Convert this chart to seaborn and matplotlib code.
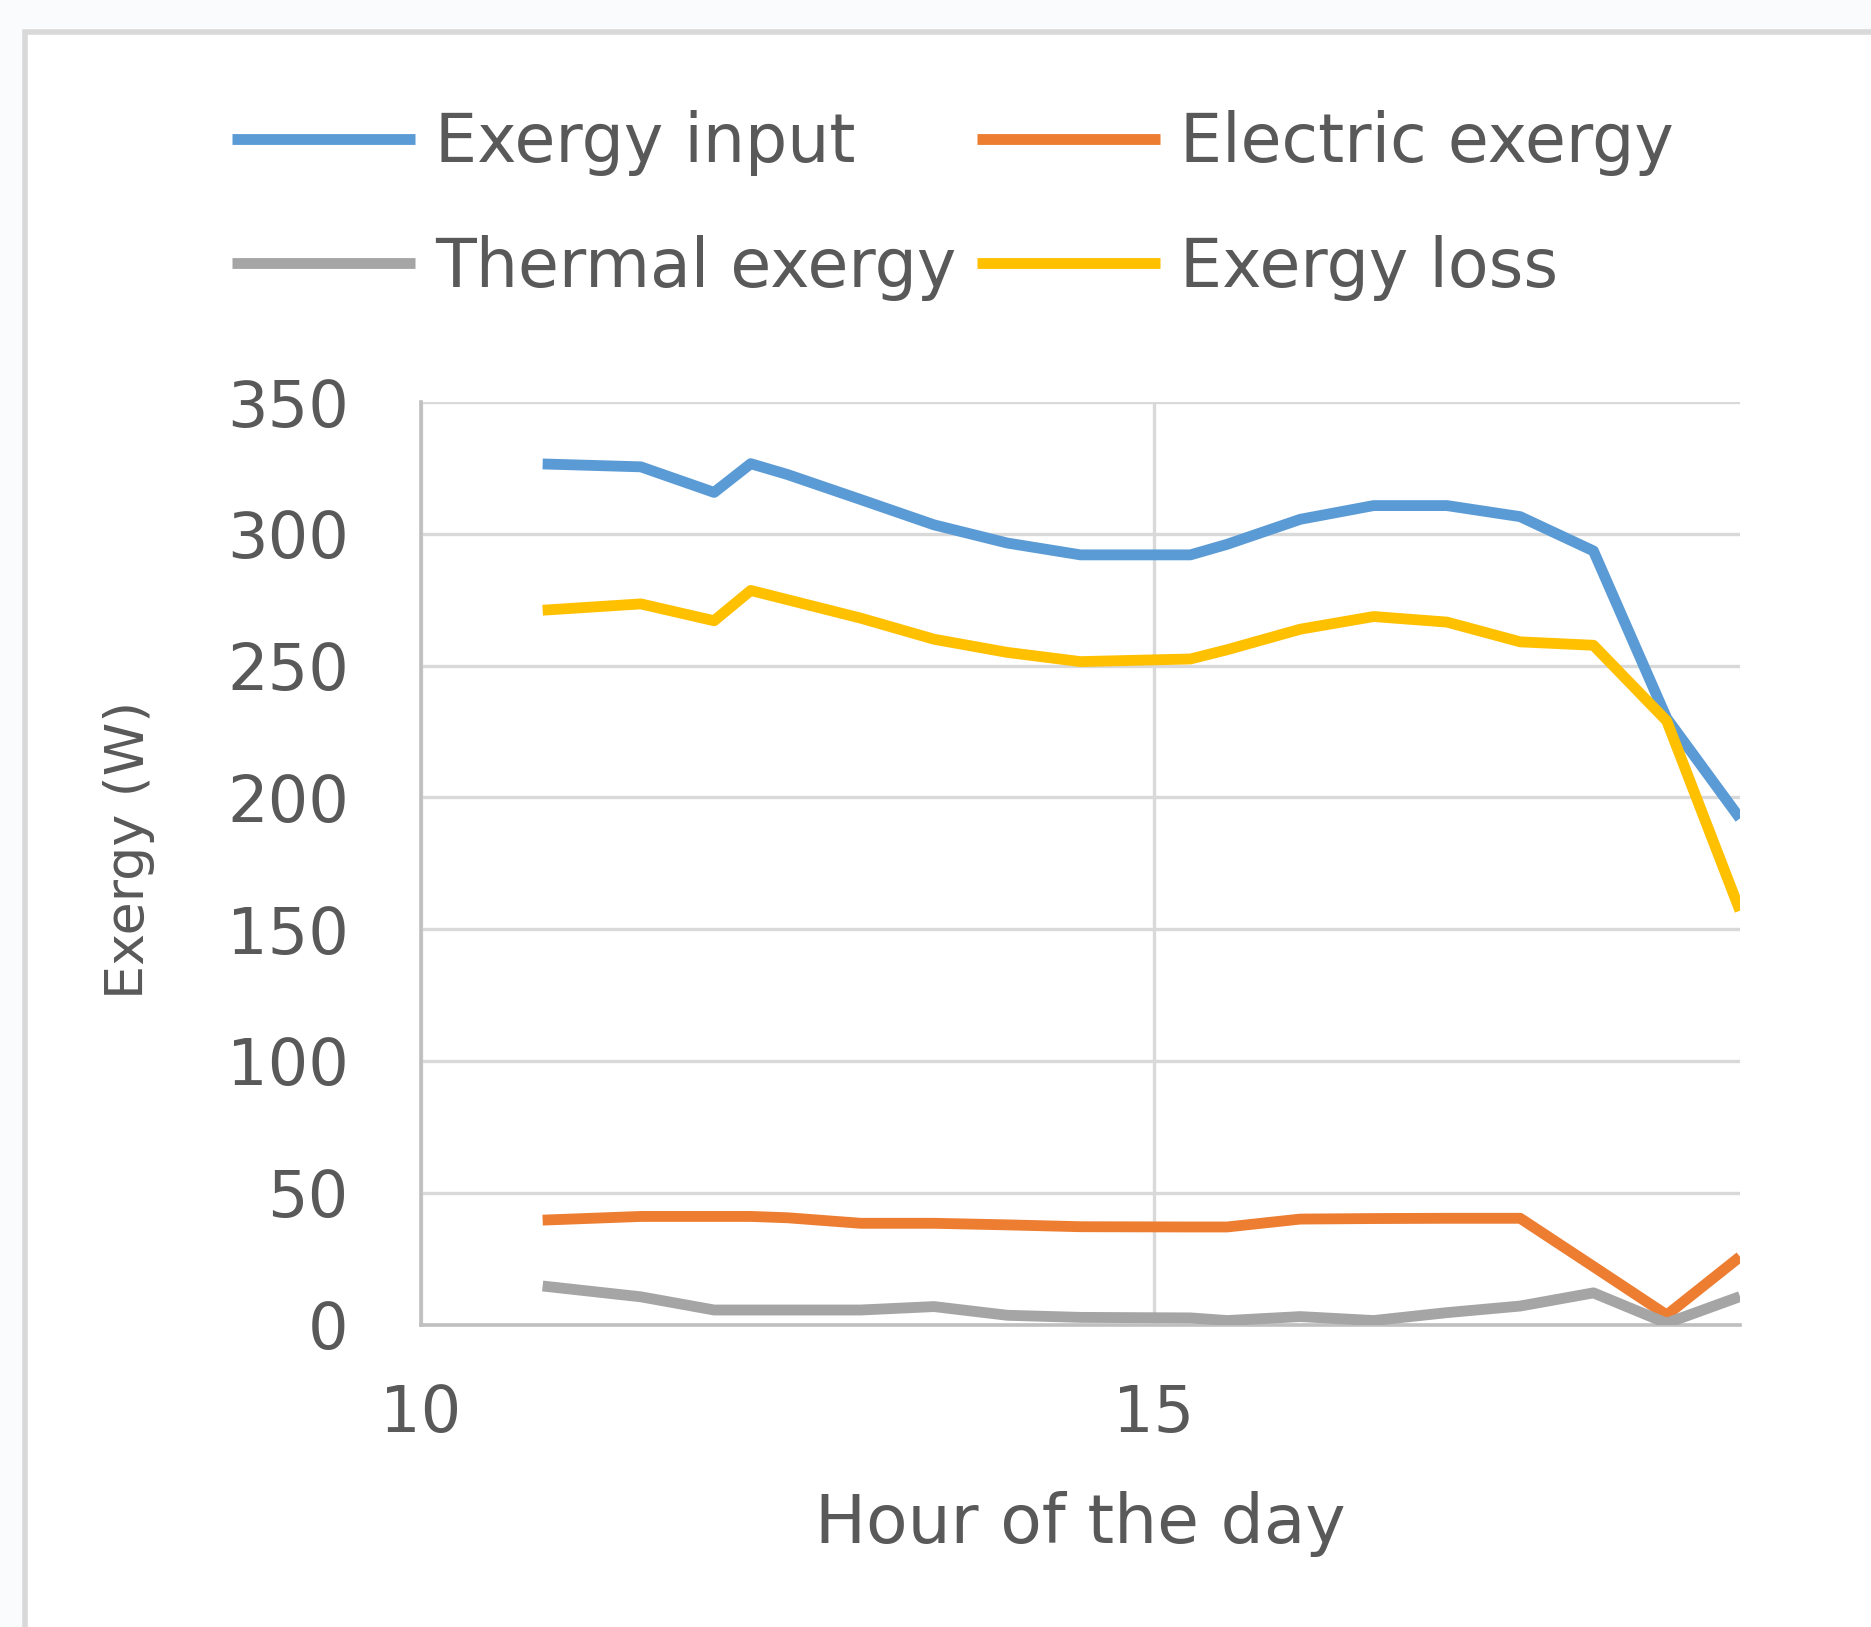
import seaborn as sns
import pandas as pd
import matplotlib.pyplot as plt
from matplotlib.patches import Rectangle

# hour of the day (decimal hours)
hours = [10.83, 11.5, 12.0, 12.25, 12.5, 13.0, 13.5, 14.0, 14.5, 15.25,
         15.5, 16.0, 16.5, 17.0, 17.5, 18.0, 18.5, 19.0]

exergy_input = [326.5, 325.4, 315.7, 326.6, 322.5, 313.0, 303.4, 296.5, 292.0, 292.0,
                296.0, 305.5, 310.7, 310.7, 306.5, 293.5, 230.0, 192.0]
electric_exergy = [39.6, 41.0, 41.0, 41.0, 40.5, 38.4, 38.4, 37.8, 37.1, 37.0,
                   37.0, 40.0, 40.2, 40.3, 40.3, 22.0, 3.6, 25.7]
thermal_exergy = [14.6, 10.5, 5.5, 5.5, 5.5, 5.5, 6.8, 3.5, 2.7, 2.5,
                  1.5, 3.0, 1.5, 4.5, 7.0, 12.0, 0.5, 10.6]
exergy_loss = [271.0, 273.4, 267.0, 278.5, 275.0, 268.0, 260.0, 255.0, 251.5, 252.5,
               256.0, 263.8, 268.6, 266.5, 259.0, 257.7, 229.0, 157.0]

series_names = ["Exergy input", "Electric exergy", "Thermal exergy", "Exergy loss"]
series_colors = ["#5B9BD5", "#ED7D31", "#A5A5A5", "#FFC000"]

frames = []
for name, vals in zip(series_names, [exergy_input, electric_exergy, thermal_exergy, exergy_loss]):
    frames.append(pd.DataFrame({"hour": hours, "value": vals, "series": name}))
df = pd.concat(frames, ignore_index=True)

sns.set_style("white")
plt.rcParams["font.family"] = ["DejaVu Sans"]
text_color = "#595959"

W, H = 1871, 1627
fig = plt.figure(figsize=(W / 100, H / 100), dpi=100)
fig.patch.set_facecolor("#FAFBFC")

# chart area frame (top-left corner of an Excel chart box)
fig.patches.append(Rectangle((25 / W, -0.05), 1.2, 1 - 32 / H + 0.05,
                             transform=fig.transFigure, facecolor="white",
                             edgecolor="#D9D9D9", linewidth=4, zorder=-5))

ax = fig.add_axes([421 / W, 1 - 1324.5 / H, (1740 - 421) / W, (1324.5 - 402) / H])
ax.set_facecolor("white")

sns.lineplot(data=df, x="hour", y="value", hue="series", hue_order=series_names,
             palette=series_colors, linewidth=7.8, ax=ax, legend=False, zorder=3,
             solid_capstyle="butt", solid_joinstyle="round")

ax.set_xlim(10, 19)
ax.set_ylim(0, 350)
ax.set_xticks([10, 15])
ax.set_yticks(range(0, 351, 50))
ax.grid(True, color="#D9D9D9", linewidth=2.4)
ax.set_axisbelow(True)
for s in ["top", "right"]:
    ax.spines[s].set_visible(False)
for s in ["left", "bottom"]:
    ax.spines[s].set_color("#BFBFBF")
    ax.spines[s].set_linewidth(2.6)

ax.tick_params(axis="y", length=0, pad=52, labelsize=46, labelcolor=text_color)
ax.tick_params(axis="x", length=0, pad=42, labelsize=46, labelcolor=text_color)

ax.set_xlabel("Hour of the day", fontsize=49, color=text_color)
ax.set_ylabel("Exergy (W)", fontsize=39, color=text_color)
ax.xaxis.set_label_coords(0.5, -0.18)
ax.yaxis.set_label_coords(-0.2017, 0.515)

# legend: two rows, order so that columns read input/thermal, electric/loss
order = [0, 2, 1, 3]
handles = [plt.Line2D([], [], color=series_colors[i], linewidth=7.8,
                      solid_capstyle="butt") for i in order]
labels = [series_names[i] for i in order]
fig.legend(handles, labels, ncol=2, frameon=False, fontsize=48,
           labelcolor=text_color, handlelength=2.75, handletextpad=0.3,
           columnspacing=0.3, labelspacing=0.88,
           loc="upper left", bbox_to_anchor=(172 / W, 1 - 50 / H))

fig.savefig("out.png", dpi=100, facecolor=fig.get_facecolor())
